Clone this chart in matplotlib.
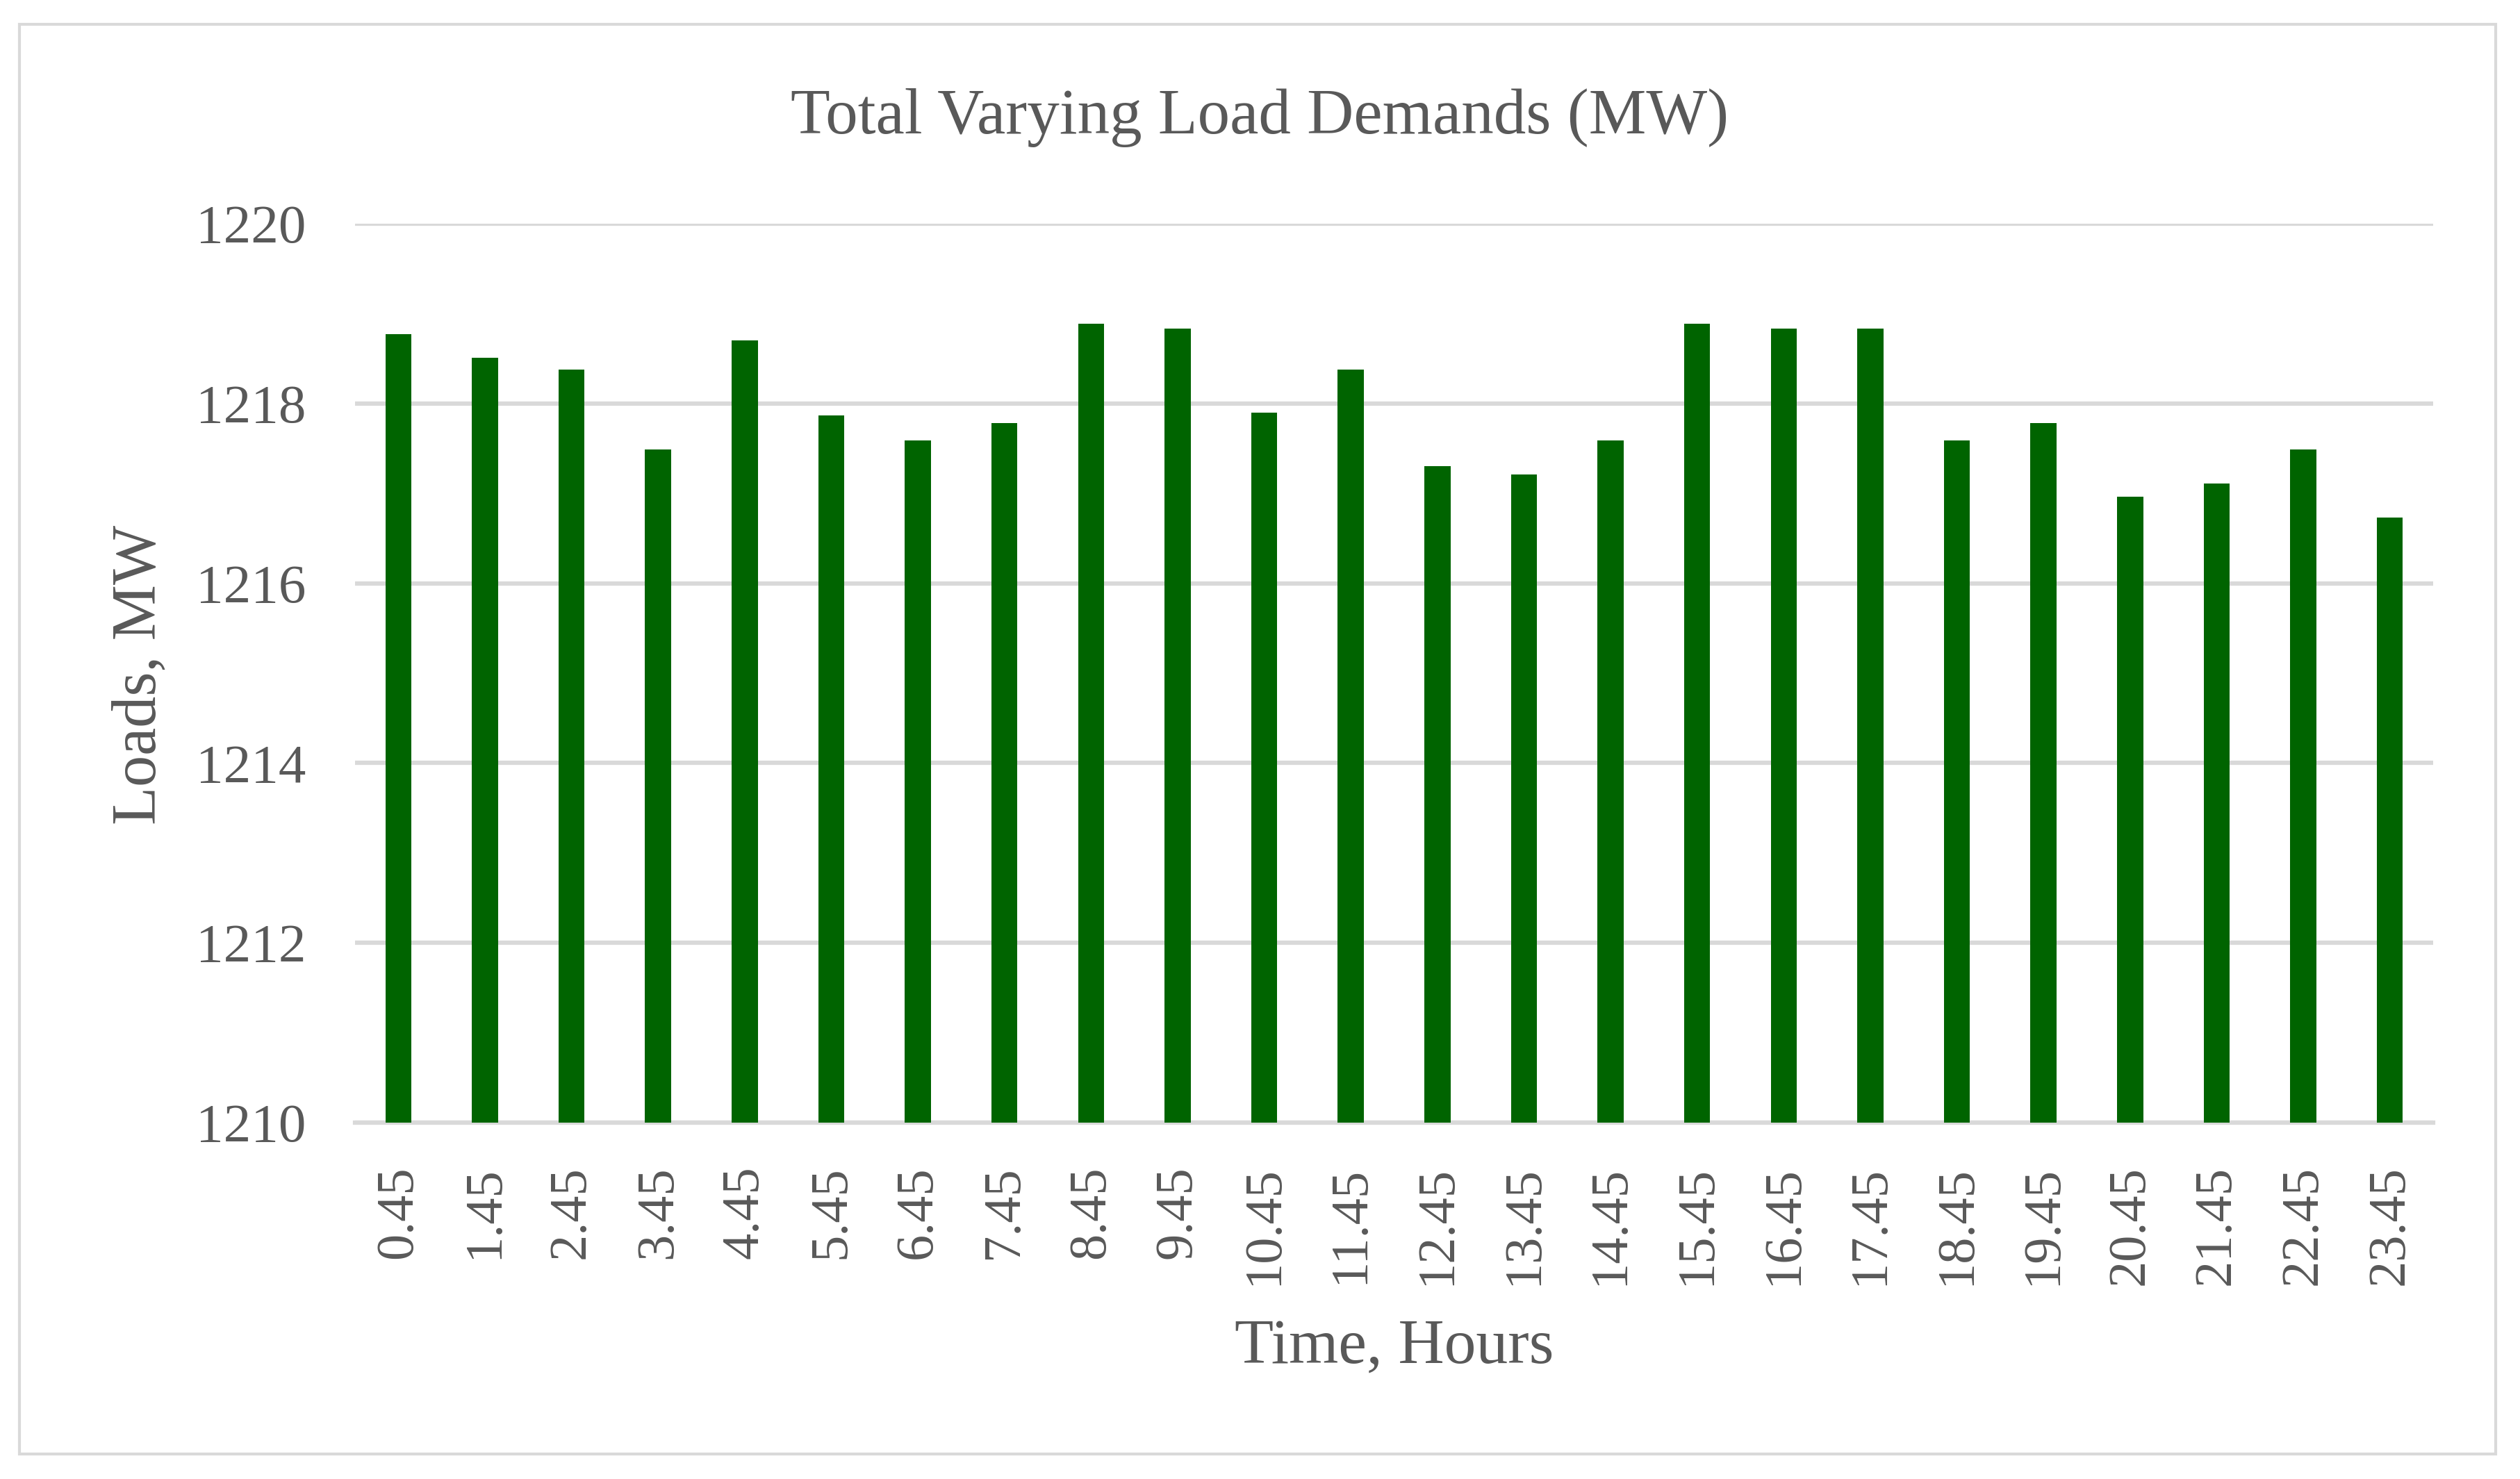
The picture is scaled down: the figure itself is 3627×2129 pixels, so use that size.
import numpy as np
import matplotlib.pyplot as plt
from matplotlib.patches import Rectangle

hours = ["0.45", "1.45", "2.45", "3.45", "4.45", "5.45", "6.45", "7.45",
         "8.45", "9.45", "10.45", "11.45", "12.45", "13.45", "14.45", "15.45",
         "16.45", "17.45", "18.45", "19.45", "20.45", "21.45", "22.45", "23.45"]
loads = [1218.77, 1218.51, 1218.38, 1217.49, 1218.70, 1217.87, 1217.59, 1217.78,
         1218.89, 1218.83, 1217.90, 1218.38, 1217.30, 1217.21, 1217.59, 1218.89,
         1218.83, 1218.83, 1217.59, 1217.78, 1216.96, 1217.11, 1217.49, 1216.73]
y_ticks = [1210, 1212, 1214, 1216, 1218, 1220]

W, H = 3627, 2129
fig = plt.figure(figsize=(W / 100, H / 100), dpi=100)
plt.rcParams['font.family'] = ['Liberation Serif', 'DejaVu Serif']
txt = '#595959'
grid = '#d9d9d9'

# plot area in pixels
left, right, top, bottom = 511, 3502, 322, 1616
ax = fig.add_axes([left / W, 1 - bottom / H, (right - left) / W, (bottom - top) / H])

x = np.arange(len(hours))
ax.bar(x, np.array(loads) - 1210, bottom=1210, width=0.30, color='#006400', zorder=3)

ax.set_xlim(-0.5, len(hours) - 0.5)
ax.set_ylim(1210, 1220)
ax.set_yticks(y_ticks)
ax.set_yticklabels([str(v) for v in y_ticks])
ax.set_xticks(x)
ax.set_xticklabels(hours, rotation=90)
ax.yaxis.grid(True, color=grid, linewidth=4.5, zorder=0)
ax.set_axisbelow(True)
for s in ['top', 'right', 'left']:
    ax.spines[s].set_visible(False)
ax.spines['bottom'].set_color(grid)
ax.spines['bottom'].set_linewidth(4.5)
ax.tick_params(axis='y', length=0, pad=51, labelsize=57, labelcolor=txt)
ax.tick_params(axis='x', length=0, pad=45, labelsize=55, labelcolor=txt)

fig.text(1813 / W, 1 - 192 / H, "Total Varying Load Demands (MW)", ha='center',
         va='baseline', fontsize=67, color=txt)
fig.text((left + right) / 2 / W, 1 - 1962 / H, "Time, Hours", ha='center',
         va='baseline', fontsize=66, color=txt)
fig.text(201 / W, 1 - 971 / H, "Loads, MW", ha='center', va='center',
         rotation=90, fontsize=65, color=txt)

# outer chart border
fig.patches.append(Rectangle((28 / W, 1 - 2093 / H), (3592 - 28) / W, (2093 - 35) / H,
                             transform=fig.transFigure, fill=False,
                             edgecolor=grid, linewidth=3))

fig.savefig("out.png", dpi=100)
